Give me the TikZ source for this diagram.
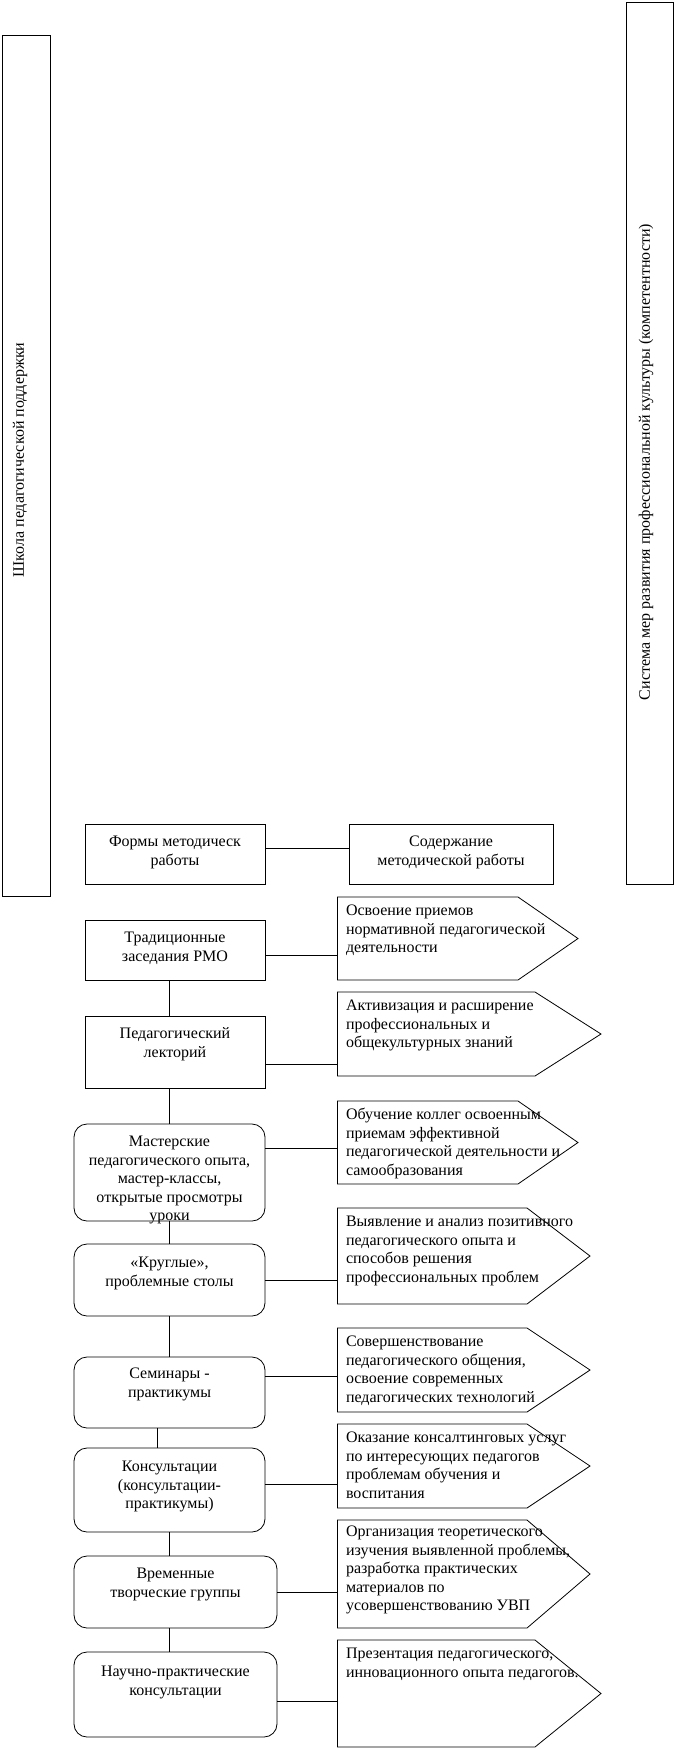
\documentclass[tikz,border=0pt]{standalone}
\usepackage{fontspec}
\setmainfont{Liberation Serif}
\usetikzlibrary{fit,calc}
\begin{document}
\begin{tikzpicture}[x=0.75pt,y=-0.75pt,
  every node/.style={inner sep=0pt, outer sep=0pt},
  box/.style={draw, line width=0.6pt},
  rbox/.style={draw, line width=0.6pt, rounded corners=9.75pt},
  outline/.style={draw, line width=0.6pt, line join=miter},
  link/.style={line width=0.6pt},
  txt/.style={font=\fontsize{12pt}{13.8pt}\selectfont, align=center, anchor=north},
  ptxt/.style={font=\fontsize{12pt}{13.8pt}\selectfont, align=left, anchor=north west},
  vtxt/.style={font=\fontsize{12pt}{13.8pt}\selectfont, rotate=90, anchor=center}
]
\useasboundingbox (0,0) rectangle (674,1749);

% side frames
\node[box, fit={(2,35) (50,896)}] (school) {};
\node[vtxt] (schoolt) at (20,460) {Школа педагогической поддержки};
\node[box, fit={(626,2) (673,884)}] (system) {};
\node[vtxt] (systemt) at (646,462) {Система мер развития профессиональной культуры (компетентности)};

% header
\node[box, fit={(85,824) (265,884)}] (forms) {};
\node[txt] (formst) at ($(forms.north)+(0,10)$) {\strut Формы методическ\\работы};
\node[box, fit={(349,824) (553,884)}] (content) {};
\node[txt] (contentt) at ($(content.north)+(0,10)$) {\strut Содержание\\методической работы};
\draw[link] ([yshift=4.5pt]forms.east) -- ([yshift=4.5pt]content.west);

% left column
\node[box, fit={(85,920) (265,980)}] (b1) {};
\node[txt] (b1t) at ($(b1.north)+(0,10)$) {\strut Традиционные\\заседания РМО};
\node[box, fit={(85,1016) (265,1088)}] (b2) {};
\node[txt] (b2t) at ($(b2.north)+(0,10)$) {\strut Педагогический\\лекторий};
\node[rbox, fit={(74,1124) (265,1221)}] (b3) {};
\node[txt] (b3t) at ($(b3.north)+(0,10)$) {\strut Мастерские\\педагогического опыта,\\мастер-классы,\\открытые просмотры\\уроки};
\node[rbox, fit={(74,1244) (265,1316)}] (b4) {};
\node[txt] (b4t) at ($(b4.north)+(0,11)$) {\strut «Круглые»,\\проблемные столы};
\node[rbox, fit={(74,1357) (265,1428)}] (b5) {};
\node[txt] (b5t) at ($(b5.north)+(0,9)$) {\strut Семинары -\\практикумы};
\node[rbox, fit={(74,1448) (265,1532)}] (b6) {};
\node[txt] (b6t) at ($(b6.north)+(0,11)$) {\strut Консультации\\(консультации-\\практикумы)};
\node[rbox, fit={(74,1556) (277,1628)}] (b7) {};
\node[txt] (b7t) at ($(b7.north)+(0,10)$) {\strut Временные\\творческие группы};
\node[rbox, fit={(74,1652) (277,1737)}] (b8) {};
\node[txt] (b8t) at ($(b8.north)+(0,12)$) {\strut Научно-практические\\консультации};

\coordinate (vx) at (169,0);
\coordinate (vy) at (157,0);
\draw[link] (b1.south -| vx) -- (b2.north -| vx);
\draw[link] (b2.south -| vx) -- (b3.north -| vx);
\draw[link] (b3.south -| vx) -- (b4.north -| vx);
\draw[link] (b4.south -| vx) -- (b5.north -| vx);
\draw[link] (b5.south -| vy) -- (b6.north -| vy);
\draw[link] (b6.south -| vx) -- (b7.north -| vx);
\draw[link] (b7.south -| vx) -- (b8.north -| vx);

% right column (pentagons)
\node[fit={(337.5,897) (518,980)}] (p1) {};
\coordinate (p1tip) at (578,938.5);
\node[fit={(337.5,992) (535,1076)}] (p2) {};
\coordinate (p2tip) at (601,1034);
\node[fit={(337.5,1101) (518,1184)}] (p3) {};
\coordinate (p3tip) at (578,1142.5);
\node[fit={(337.5,1208) (527,1304)}] (p4) {};
\coordinate (p4tip) at (590,1256);
\node[fit={(337.5,1328) (527,1412)}] (p5) {};
\coordinate (p5tip) at (590,1370);
\node[fit={(337.5,1424) (527,1508)}] (p6) {};
\coordinate (p6tip) at (590,1466);
\node[fit={(337.5,1520) (527,1628)}] (p7) {};
\coordinate (p7tip) at (590,1574);
\node[fit={(337.5,1640) (535,1747)}] (p8) {};
\coordinate (p8tip) at (601,1693.5);
\foreach \p in {p1,p2,p3,p4,p5,p6,p7,p8}{
  \draw[outline] (\p.north west) -- (\p.north east) -- (\p tip) -- (\p.south east) -- (\p.south west) -- cycle;
}
\node[ptxt] (p1t) at ($(p1.north west)+(8.5,6)$) {\strut Освоение приемов\\нормативной педагогической\\деятельности};
\node[ptxt] (p2t) at ($(p2.north west)+(8.5,6)$) {\strut Активизация и расширение\\профессиональных и\\общекультурных знаний};
\node[ptxt] (p3t) at ($(p3.north west)+(8.5,6)$) {\strut Обучение коллег освоенным\\приемам эффективной\\педагогической деятельности и\\самообразования};
\node[ptxt] (p4t) at ($(p4.north west)+(8.5,6)$) {\strut Выявление и анализ позитивного\\педагогического опыта и\\способов решения\\профессиональных проблем};
\node[ptxt] (p5t) at ($(p5.north west)+(8.5,6)$) {\strut Совершенствование\\педагогического общения,\\освоение современных\\педагогических технологий};
\node[ptxt] (p6t) at ($(p6.north west)+(8.5,6)$) {\strut Оказание консалтинговых услуг\\по интересующих педагогов\\проблемам обучения и\\воспитания};
\node[ptxt] (p7t) at ($(p7.north west)+(8.5,4)$) {\strut Организация теоретического\\изучения выявленной проблемы,\\разработка практических\\материалов по\\усовершенствованию УВП};
\node[ptxt] (p8t) at ($(p8.north west)+(8.5,6)$) {\strut Презентация педагогического,\\инновационного опыта педагогов.};

% links box -> content
\draw[link] (b1.east |- 0,955) -- (p1.west |- 0,955);
\draw[link] (b2.east |- 0,1064) -- (p2.west |- 0,1064);
\draw[link] (b3.east |- 0,1148) -- (p3.west |- 0,1148);
\draw[link] (b4.east |- 0,1280) -- (p4.west |- 0,1280);
\draw[link] (b5.east |- 0,1376) -- (p5.west |- 0,1376);
\draw[link] (b6.east |- 0,1484) -- (p6.west |- 0,1484);
\draw[link] (b7.east |- 0,1592) -- (p7.west |- 0,1592);
\draw[link] (b8.east |- 0,1701) -- (p8.west |- 0,1701);
\end{tikzpicture}
\end{document}
